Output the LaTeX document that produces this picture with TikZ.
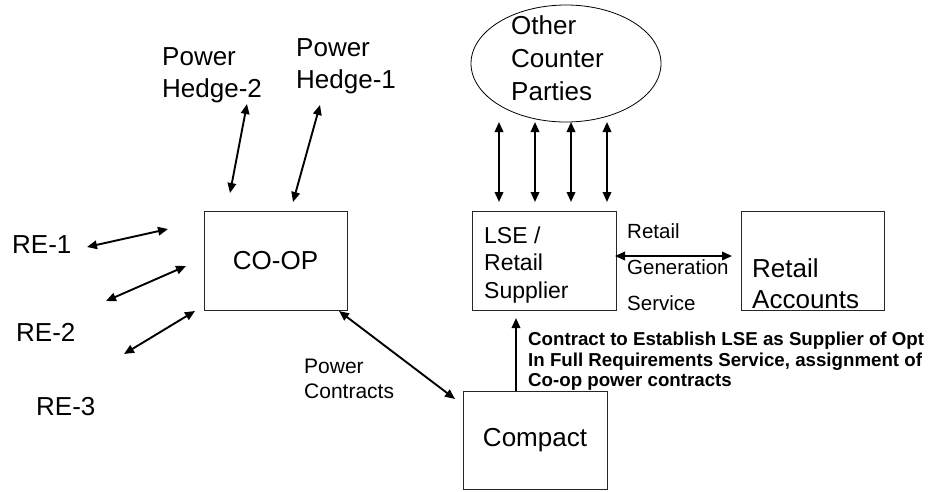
\documentclass[tikz,border=0pt]{standalone}
\usepackage{fontspec}
\setmainfont{Liberation Sans}
\usetikzlibrary{arrows.meta,shapes.geometric}
\begin{document}
\begin{tikzpicture}[x=1pt,y=-1pt,
  box/.style={draw=black!85, line width=0.9pt, rectangle, inner sep=0pt},
  txt/.style={inner sep=0pt, anchor=base west, align=left},
  big/.style={font=\fontsize{26}{32}\selectfont},
  arr/.style={line width=1.9pt, {Triangle[length=10pt,width=8.5pt]}-{Triangle[length=10pt,width=8.5pt]}},
  uparr/.style={line width=1.9pt, -{Triangle[length=10pt,width=8.5pt]}}
]
\useasboundingbox (0,0) rectangle (928,491);

% boxes
\node[box, big, minimum width=143pt, minimum height=99pt] (coop) at (275.5,260.5) {CO-OP};
\node[box, minimum width=144pt, minimum height=99pt] (lse) at (544,260.5) {};
\node[box, minimum width=143pt, minimum height=99pt] (ra) at (812.5,260.5) {};
\node[box, big, minimum width=144pt, minimum height=98pt] (compact) at (535,440) {Compact};
\node[draw=black, line width=0.8pt, ellipse, inner sep=0pt, minimum width=190pt, minimum height=117pt] (ocp) at (566,63.5) {};

% texts (anchor = baseline of the last line)
\node[txt, font=\fontsize{26}{33}\selectfont] (ocpt) at (511,100) {Other\\Counter\\Parties};
\node[txt, font=\fontsize{23}{27.5}\selectfont] (lset) at (484,298) {LSE /\\Retail\\Supplier};
\node[txt, font=\fontsize{26}{31}\selectfont] (rat) at (752,308) {Retail\\Accounts};
\node[txt, big] (ph2) at (162,97) {Power\\Hedge-2};
\node[txt, big] (ph1) at (296,88) {Power\\Hedge-1};
\node[txt, big] (re1) at (12,253) {RE-1};
\node[txt, big] (re2) at (16,341) {RE-2};
\node[txt, big] (re3) at (36,415) {RE-3};
\node[txt, font=\fontsize{21}{25}\selectfont] (pct) at (304,398) {Power\\Contracts};
\node[txt, font=\fontsize{20.5}{36}\selectfont] (rgs) at (627,310) {Retail\\Generation\\Service};
\node[txt, font=\bfseries\fontsize{18.7}{20.5}\selectfont] (ct) at (528,386.5) {Contract to Establish LSE as Supplier of Opt\\In Full Requirements Service, assignment of\\Co-op power contracts};

% connector ends
\coordinate (h2a) at (247,104); \coordinate (h2b) at (230,193);
\coordinate (h1a) at (320,105); \coordinate (h1b) at (293,202);
\coordinate (r1a) at (87,247);  \coordinate (r1b) at (168,229);
\coordinate (r2a) at (106,301); \coordinate (r2b) at (186,266);
\coordinate (r3a) at (124,354); \coordinate (r3b) at (195,311);
\coordinate (pc1) at (339,311); \coordinate (pc2) at (455,399);
\coordinate (v1a) at (499,122); \coordinate (v1b) at (499,202);
\coordinate (v2a) at (535,122); \coordinate (v2b) at (535,202);
\coordinate (v3a) at (571,122); \coordinate (v3b) at (571,202);
\coordinate (v4a) at (607,122); \coordinate (v4b) at (607,202);
\coordinate (rga) at (615,256); \coordinate (rgb) at (732,256);
\coordinate (upa) at (516,391); \coordinate (upb) at (516,318);

% connectors
\draw[arr] (h2a) -- (h2b);
\draw[arr] (h1a) -- (h1b);
\draw[arr] (r1a) -- (r1b);
\draw[arr] (r2a) -- (r2b);
\draw[arr] (r3a) -- (r3b);
\draw[arr] (pc1) -- (pc2);
\draw[arr] (v1a) -- (v1b);
\draw[arr] (v2a) -- (v2b);
\draw[arr] (v3a) -- (v3b);
\draw[arr] (v4a) -- (v4b);
\draw[arr] (rga) -- (rgb);
\draw[uparr] (upa) -- (upb);
\end{tikzpicture}
\end{document}
